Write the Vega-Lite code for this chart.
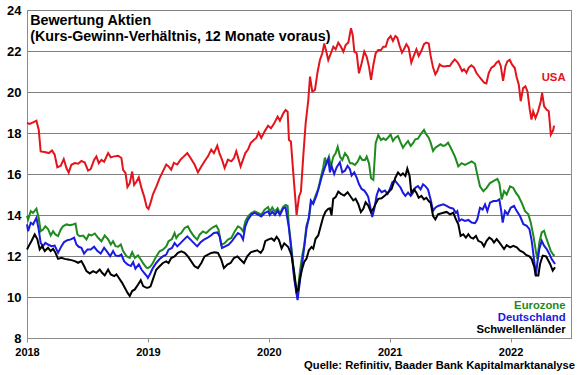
{
"$schema": "https://vega.github.io/schema/vega-lite/v6.json",
"width": 544, "height": 328,
"autosize": {"type": "none"},
"padding": {"left": 27, "top": 10, "right": 9, "bottom": 37},
"config": {"font": "Liberation Sans", "view": {"stroke": "#8c8c8c", "strokeWidth": 1}},
"title": {"text": "Quelle: Refinitiv, Baader Bank Kapitalmarktanalyse", "orient": "bottom", "anchor": "end", "fontSize": 11.2, "fontWeight": "bold", "font": "Liberation Sans", "color": "#000000", "offset": 3, "dx": 4},
"datasets": {
"series": [
{"s":"USA","t":2018.0,"v":18.49},{"s":"USA","t":2018.022,"v":18.44},{"s":"USA","t":2018.05,"v":18.52},{"s":"USA","t":2018.078,"v":18.6},{"s":"USA","t":2018.097,"v":18.16},{"s":"USA","t":2018.113,"v":17.1},{"s":"USA","t":2018.147,"v":17.07},{"s":"USA","t":2018.18,"v":17.02},{"s":"USA","t":2018.207,"v":17.15},{"s":"USA","t":2018.229,"v":16.94},{"s":"USA","t":2018.251,"v":16.33},{"s":"USA","t":2018.279,"v":16.4},{"s":"USA","t":2018.304,"v":16.73},{"s":"USA","t":2018.326,"v":16.29},{"s":"USA","t":2018.345,"v":16.07},{"s":"USA","t":2018.367,"v":16.45},{"s":"USA","t":2018.395,"v":16.53},{"s":"USA","t":2018.423,"v":16.5},{"s":"USA","t":2018.45,"v":16.64},{"s":"USA","t":2018.478,"v":16.56},{"s":"USA","t":2018.505,"v":16.17},{"s":"USA","t":2018.527,"v":16.24},{"s":"USA","t":2018.555,"v":16.69},{"s":"USA","t":2018.574,"v":16.86},{"s":"USA","t":2018.594,"v":16.53},{"s":"USA","t":2018.616,"v":16.69},{"s":"USA","t":2018.638,"v":16.6},{"s":"USA","t":2018.671,"v":17.02},{"s":"USA","t":2018.693,"v":16.81},{"s":"USA","t":2018.721,"v":16.86},{"s":"USA","t":2018.754,"v":16.89},{"s":"USA","t":2018.781,"v":16.78},{"s":"USA","t":2018.795,"v":16.2},{"s":"USA","t":2018.815,"v":16.04},{"s":"USA","t":2018.831,"v":15.36},{"s":"USA","t":2018.85,"v":15.55},{"s":"USA","t":2018.87,"v":16.12},{"s":"USA","t":2018.886,"v":15.47},{"s":"USA","t":2018.906,"v":15.63},{"s":"USA","t":2018.925,"v":15.84},{"s":"USA","t":2018.947,"v":15.31},{"s":"USA","t":2018.969,"v":14.9},{"s":"USA","t":2018.991,"v":14.38},{"s":"USA","t":2019.005,"v":14.3},{"s":"USA","t":2019.022,"v":14.59},{"s":"USA","t":2019.041,"v":14.99},{"s":"USA","t":2019.069,"v":15.37},{"s":"USA","t":2019.097,"v":15.8},{"s":"USA","t":2019.124,"v":16.13},{"s":"USA","t":2019.152,"v":16.46},{"s":"USA","t":2019.171,"v":16.37},{"s":"USA","t":2019.193,"v":16.21},{"s":"USA","t":2019.215,"v":16.54},{"s":"USA","t":2019.243,"v":16.46},{"s":"USA","t":2019.27,"v":16.7},{"s":"USA","t":2019.298,"v":16.86},{"s":"USA","t":2019.326,"v":17.02},{"s":"USA","t":2019.353,"v":16.78},{"s":"USA","t":2019.386,"v":16.46},{"s":"USA","t":2019.414,"v":16.08},{"s":"USA","t":2019.442,"v":16.37},{"s":"USA","t":2019.469,"v":16.62},{"s":"USA","t":2019.497,"v":16.86},{"s":"USA","t":2019.524,"v":17.19},{"s":"USA","t":2019.546,"v":17.02},{"s":"USA","t":2019.574,"v":17.38},{"s":"USA","t":2019.593,"v":16.99},{"s":"USA","t":2019.613,"v":16.7},{"s":"USA","t":2019.635,"v":16.29},{"s":"USA","t":2019.662,"v":16.7},{"s":"USA","t":2019.69,"v":16.62},{"s":"USA","t":2019.712,"v":16.78},{"s":"USA","t":2019.731,"v":17.11},{"s":"USA","t":2019.751,"v":16.7},{"s":"USA","t":2019.767,"v":16.37},{"s":"USA","t":2019.787,"v":16.7},{"s":"USA","t":2019.806,"v":17.02},{"s":"USA","t":2019.828,"v":17.19},{"s":"USA","t":2019.85,"v":17.51},{"s":"USA","t":2019.878,"v":17.67},{"s":"USA","t":2019.897,"v":17.76},{"s":"USA","t":2019.916,"v":18.03},{"s":"USA","t":2019.938,"v":17.76},{"s":"USA","t":2019.966,"v":18.08},{"s":"USA","t":2019.994,"v":18.35},{"s":"USA","t":2020.018,"v":18.23},{"s":"USA","t":2020.045,"v":18.47},{"s":"USA","t":2020.073,"v":18.8},{"s":"USA","t":2020.092,"v":18.6},{"s":"USA","t":2020.12,"v":18.96},{"s":"USA","t":2020.139,"v":19.12},{"s":"USA","t":2020.156,"v":19.04},{"s":"USA","t":2020.167,"v":17.66},{"s":"USA","t":2020.183,"v":17.58},{"s":"USA","t":2020.203,"v":16.03},{"s":"USA","t":2020.23,"v":14.0},{"s":"USA","t":2020.25,"v":14.89},{"s":"USA","t":2020.266,"v":15.14},{"s":"USA","t":2020.285,"v":16.85},{"s":"USA","t":2020.305,"v":18.47},{"s":"USA","t":2020.327,"v":19.61},{"s":"USA","t":2020.341,"v":20.75},{"s":"USA","t":2020.36,"v":20.02},{"s":"USA","t":2020.382,"v":20.1},{"s":"USA","t":2020.404,"v":20.99},{"s":"USA","t":2020.423,"v":21.56},{"s":"USA","t":2020.443,"v":21.89},{"s":"USA","t":2020.459,"v":22.37},{"s":"USA","t":2020.479,"v":21.89},{"s":"USA","t":2020.492,"v":21.56},{"s":"USA","t":2020.514,"v":21.89},{"s":"USA","t":2020.534,"v":22.21},{"s":"USA","t":2020.553,"v":22.08},{"s":"USA","t":2020.575,"v":22.41},{"s":"USA","t":2020.597,"v":22.21},{"s":"USA","t":2020.617,"v":21.97},{"s":"USA","t":2020.636,"v":22.29},{"s":"USA","t":2020.658,"v":22.41},{"s":"USA","t":2020.68,"v":23.11},{"s":"USA","t":2020.694,"v":22.78},{"s":"USA","t":2020.708,"v":21.97},{"s":"USA","t":2020.727,"v":21.89},{"s":"USA","t":2020.746,"v":20.91},{"s":"USA","t":2020.768,"v":21.4},{"s":"USA","t":2020.79,"v":21.97},{"s":"USA","t":2020.81,"v":21.72},{"s":"USA","t":2020.829,"v":21.24},{"s":"USA","t":2020.846,"v":20.59},{"s":"USA","t":2020.865,"v":21.32},{"s":"USA","t":2020.884,"v":21.89},{"s":"USA","t":2020.906,"v":22.05},{"s":"USA","t":2020.928,"v":22.05},{"s":"USA","t":2020.948,"v":22.21},{"s":"USA","t":2020.967,"v":22.21},{"s":"USA","t":2020.986,"v":22.57},{"s":"USA","t":2021.008,"v":22.73},{"s":"USA","t":2021.027,"v":22.49},{"s":"USA","t":2021.047,"v":22.73},{"s":"USA","t":2021.063,"v":22.65},{"s":"USA","t":2021.083,"v":22.24},{"s":"USA","t":2021.102,"v":21.92},{"s":"USA","t":2021.118,"v":22.08},{"s":"USA","t":2021.138,"v":22.33},{"s":"USA","t":2021.157,"v":22.16},{"s":"USA","t":2021.179,"v":21.43},{"s":"USA","t":2021.201,"v":21.79},{"s":"USA","t":2021.221,"v":22.08},{"s":"USA","t":2021.24,"v":21.76},{"s":"USA","t":2021.262,"v":22.0},{"s":"USA","t":2021.284,"v":22.33},{"s":"USA","t":2021.303,"v":22.41},{"s":"USA","t":2021.323,"v":22.37},{"s":"USA","t":2021.339,"v":21.76},{"s":"USA","t":2021.359,"v":21.19},{"s":"USA","t":2021.378,"v":20.86},{"s":"USA","t":2021.394,"v":21.02},{"s":"USA","t":2021.414,"v":21.35},{"s":"USA","t":2021.433,"v":21.27},{"s":"USA","t":2021.455,"v":21.24},{"s":"USA","t":2021.477,"v":21.27},{"s":"USA","t":2021.497,"v":21.27},{"s":"USA","t":2021.516,"v":21.43},{"s":"USA","t":2021.538,"v":21.59},{"s":"USA","t":2021.56,"v":21.46},{"s":"USA","t":2021.579,"v":21.27},{"s":"USA","t":2021.599,"v":21.02},{"s":"USA","t":2021.615,"v":21.11},{"s":"USA","t":2021.635,"v":20.94},{"s":"USA","t":2021.654,"v":21.19},{"s":"USA","t":2021.676,"v":21.3},{"s":"USA","t":2021.698,"v":21.19},{"s":"USA","t":2021.717,"v":20.94},{"s":"USA","t":2021.737,"v":20.78},{"s":"USA","t":2021.759,"v":20.62},{"s":"USA","t":2021.781,"v":20.46},{"s":"USA","t":2021.8,"v":20.42},{"s":"USA","t":2021.82,"v":20.94},{"s":"USA","t":2021.842,"v":21.19},{"s":"USA","t":2021.864,"v":21.27},{"s":"USA","t":2021.883,"v":21.43},{"s":"USA","t":2021.902,"v":21.51},{"s":"USA","t":2021.919,"v":21.27},{"s":"USA","t":2021.938,"v":20.54},{"s":"USA","t":2021.958,"v":21.27},{"s":"USA","t":2021.974,"v":21.49},{"s":"USA","t":2021.993,"v":21.57},{"s":"USA","t":2022.013,"v":21.33},{"s":"USA","t":2022.035,"v":21.17},{"s":"USA","t":2022.049,"v":20.76},{"s":"USA","t":2022.068,"v":20.36},{"s":"USA","t":2022.084,"v":19.55},{"s":"USA","t":2022.104,"v":20.19},{"s":"USA","t":2022.123,"v":20.28},{"s":"USA","t":2022.14,"v":20.03},{"s":"USA","t":2022.159,"v":19.14},{"s":"USA","t":2022.173,"v":18.65},{"s":"USA","t":2022.187,"v":19.06},{"s":"USA","t":2022.206,"v":18.73},{"s":"USA","t":2022.228,"v":19.06},{"s":"USA","t":2022.25,"v":19.55},{"s":"USA","t":2022.261,"v":19.95},{"s":"USA","t":2022.278,"v":19.3},{"s":"USA","t":2022.297,"v":19.14},{"s":"USA","t":2022.316,"v":19.06},{"s":"USA","t":2022.333,"v":17.92},{"s":"USA","t":2022.352,"v":18.13},{"s":"USA","t":2022.36,"v":18.36},
{"s":"Eurozone","t":2018.0,"v":13.97},{"s":"Eurozone","t":2018.009,"v":13.78},{"s":"Eurozone","t":2018.031,"v":14.19},{"s":"Eurozone","t":2018.05,"v":14.1},{"s":"Eurozone","t":2018.078,"v":14.31},{"s":"Eurozone","t":2018.097,"v":13.86},{"s":"Eurozone","t":2018.113,"v":13.21},{"s":"Eurozone","t":2018.133,"v":13.29},{"s":"Eurozone","t":2018.152,"v":13.45},{"s":"Eurozone","t":2018.174,"v":13.32},{"s":"Eurozone","t":2018.196,"v":13.0},{"s":"Eurozone","t":2018.216,"v":13.21},{"s":"Eurozone","t":2018.235,"v":13.05},{"s":"Eurozone","t":2018.257,"v":12.97},{"s":"Eurozone","t":2018.279,"v":13.29},{"s":"Eurozone","t":2018.298,"v":13.45},{"s":"Eurozone","t":2018.326,"v":13.54},{"s":"Eurozone","t":2018.354,"v":13.5},{"s":"Eurozone","t":2018.381,"v":13.54},{"s":"Eurozone","t":2018.401,"v":13.58},{"s":"Eurozone","t":2018.417,"v":13.05},{"s":"Eurozone","t":2018.436,"v":12.97},{"s":"Eurozone","t":2018.464,"v":13.0},{"s":"Eurozone","t":2018.492,"v":12.81},{"s":"Eurozone","t":2018.511,"v":13.05},{"s":"Eurozone","t":2018.533,"v":13.0},{"s":"Eurozone","t":2018.561,"v":13.1},{"s":"Eurozone","t":2018.588,"v":12.89},{"s":"Eurozone","t":2018.616,"v":12.72},{"s":"Eurozone","t":2018.643,"v":13.0},{"s":"Eurozone","t":2018.671,"v":12.81},{"s":"Eurozone","t":2018.693,"v":12.56},{"s":"Eurozone","t":2018.712,"v":12.72},{"s":"Eurozone","t":2018.732,"v":12.48},{"s":"Eurozone","t":2018.754,"v":12.45},{"s":"Eurozone","t":2018.776,"v":12.56},{"s":"Eurozone","t":2018.795,"v":12.24},{"s":"Eurozone","t":2018.823,"v":11.99},{"s":"Eurozone","t":2018.85,"v":11.91},{"s":"Eurozone","t":2018.87,"v":12.19},{"s":"Eurozone","t":2018.892,"v":11.91},{"s":"Eurozone","t":2018.919,"v":12.03},{"s":"Eurozone","t":2018.941,"v":11.83},{"s":"Eurozone","t":2018.961,"v":11.64},{"s":"Eurozone","t":2018.988,"v":11.43},{"s":"Eurozone","t":2019.0,"v":11.41},{"s":"Eurozone","t":2019.022,"v":11.5},{"s":"Eurozone","t":2019.041,"v":11.66},{"s":"Eurozone","t":2019.069,"v":11.98},{"s":"Eurozone","t":2019.097,"v":12.23},{"s":"Eurozone","t":2019.124,"v":12.31},{"s":"Eurozone","t":2019.152,"v":12.47},{"s":"Eurozone","t":2019.171,"v":12.72},{"s":"Eurozone","t":2019.199,"v":12.83},{"s":"Eurozone","t":2019.221,"v":13.12},{"s":"Eurozone","t":2019.235,"v":12.88},{"s":"Eurozone","t":2019.254,"v":13.04},{"s":"Eurozone","t":2019.276,"v":13.12},{"s":"Eurozone","t":2019.304,"v":13.37},{"s":"Eurozone","t":2019.331,"v":13.45},{"s":"Eurozone","t":2019.353,"v":13.2},{"s":"Eurozone","t":2019.381,"v":12.96},{"s":"Eurozone","t":2019.408,"v":12.8},{"s":"Eurozone","t":2019.428,"v":13.04},{"s":"Eurozone","t":2019.455,"v":13.2},{"s":"Eurozone","t":2019.483,"v":13.12},{"s":"Eurozone","t":2019.511,"v":13.28},{"s":"Eurozone","t":2019.538,"v":13.4},{"s":"Eurozone","t":2019.566,"v":13.48},{"s":"Eurozone","t":2019.585,"v":13.28},{"s":"Eurozone","t":2019.607,"v":12.55},{"s":"Eurozone","t":2019.635,"v":12.63},{"s":"Eurozone","t":2019.662,"v":12.8},{"s":"Eurozone","t":2019.69,"v":12.88},{"s":"Eurozone","t":2019.718,"v":13.2},{"s":"Eurozone","t":2019.745,"v":13.45},{"s":"Eurozone","t":2019.767,"v":13.37},{"s":"Eurozone","t":2019.787,"v":13.2},{"s":"Eurozone","t":2019.806,"v":13.69},{"s":"Eurozone","t":2019.828,"v":13.93},{"s":"Eurozone","t":2019.856,"v":14.1},{"s":"Eurozone","t":2019.883,"v":14.18},{"s":"Eurozone","t":2019.911,"v":14.1},{"s":"Eurozone","t":2019.938,"v":14.02},{"s":"Eurozone","t":2019.966,"v":14.26},{"s":"Eurozone","t":2019.994,"v":14.39},{"s":"Eurozone","t":2020.009,"v":14.16},{"s":"Eurozone","t":2020.029,"v":14.37},{"s":"Eurozone","t":2020.051,"v":14.16},{"s":"Eurozone","t":2020.073,"v":14.33},{"s":"Eurozone","t":2020.092,"v":14.08},{"s":"Eurozone","t":2020.12,"v":14.41},{"s":"Eurozone","t":2020.139,"v":14.49},{"s":"Eurozone","t":2020.156,"v":14.44},{"s":"Eurozone","t":2020.166,"v":13.49},{"s":"Eurozone","t":2020.188,"v":12.36},{"s":"Eurozone","t":2020.21,"v":11.06},{"s":"Eurozone","t":2020.23,"v":10.26},{"s":"Eurozone","t":2020.243,"v":10.42},{"s":"Eurozone","t":2020.257,"v":11.23},{"s":"Eurozone","t":2020.277,"v":12.04},{"s":"Eurozone","t":2020.293,"v":12.52},{"s":"Eurozone","t":2020.312,"v":13.49},{"s":"Eurozone","t":2020.332,"v":13.82},{"s":"Eurozone","t":2020.348,"v":14.54},{"s":"Eurozone","t":2020.368,"v":14.62},{"s":"Eurozone","t":2020.387,"v":14.95},{"s":"Eurozone","t":2020.409,"v":15.27},{"s":"Eurozone","t":2020.431,"v":15.84},{"s":"Eurozone","t":2020.45,"v":16.32},{"s":"Eurozone","t":2020.464,"v":16.8},{"s":"Eurozone","t":2020.479,"v":16.52},{"s":"Eurozone","t":2020.498,"v":16.85},{"s":"Eurozone","t":2020.514,"v":16.36},{"s":"Eurozone","t":2020.534,"v":16.85},{"s":"Eurozone","t":2020.553,"v":17.01},{"s":"Eurozone","t":2020.57,"v":17.33},{"s":"Eurozone","t":2020.589,"v":16.85},{"s":"Eurozone","t":2020.608,"v":16.68},{"s":"Eurozone","t":2020.63,"v":17.01},{"s":"Eurozone","t":2020.652,"v":16.85},{"s":"Eurozone","t":2020.672,"v":16.52},{"s":"Eurozone","t":2020.691,"v":16.52},{"s":"Eurozone","t":2020.713,"v":16.44},{"s":"Eurozone","t":2020.735,"v":16.6},{"s":"Eurozone","t":2020.755,"v":16.85},{"s":"Eurozone","t":2020.774,"v":16.68},{"s":"Eurozone","t":2020.796,"v":16.68},{"s":"Eurozone","t":2020.81,"v":16.85},{"s":"Eurozone","t":2020.829,"v":16.52},{"s":"Eurozone","t":2020.846,"v":15.79},{"s":"Eurozone","t":2020.865,"v":15.71},{"s":"Eurozone","t":2020.884,"v":17.5},{"s":"Eurozone","t":2020.906,"v":17.9},{"s":"Eurozone","t":2020.928,"v":17.66},{"s":"Eurozone","t":2020.948,"v":17.74},{"s":"Eurozone","t":2020.967,"v":17.66},{"s":"Eurozone","t":2020.986,"v":17.77},{"s":"Eurozone","t":2021.008,"v":17.93},{"s":"Eurozone","t":2021.027,"v":17.61},{"s":"Eurozone","t":2021.047,"v":17.77},{"s":"Eurozone","t":2021.069,"v":17.85},{"s":"Eurozone","t":2021.091,"v":17.53},{"s":"Eurozone","t":2021.11,"v":17.28},{"s":"Eurozone","t":2021.13,"v":17.45},{"s":"Eurozone","t":2021.152,"v":17.61},{"s":"Eurozone","t":2021.174,"v":17.37},{"s":"Eurozone","t":2021.193,"v":17.5},{"s":"Eurozone","t":2021.212,"v":17.69},{"s":"Eurozone","t":2021.234,"v":17.72},{"s":"Eurozone","t":2021.256,"v":17.93},{"s":"Eurozone","t":2021.284,"v":18.15},{"s":"Eurozone","t":2021.303,"v":17.93},{"s":"Eurozone","t":2021.323,"v":17.77},{"s":"Eurozone","t":2021.339,"v":17.53},{"s":"Eurozone","t":2021.359,"v":17.12},{"s":"Eurozone","t":2021.378,"v":17.28},{"s":"Eurozone","t":2021.4,"v":17.37},{"s":"Eurozone","t":2021.422,"v":17.45},{"s":"Eurozone","t":2021.441,"v":17.37},{"s":"Eurozone","t":2021.461,"v":17.4},{"s":"Eurozone","t":2021.483,"v":17.53},{"s":"Eurozone","t":2021.505,"v":17.28},{"s":"Eurozone","t":2021.52,"v":17.1},{"s":"Eurozone","t":2021.54,"v":16.85},{"s":"Eurozone","t":2021.568,"v":16.37},{"s":"Eurozone","t":2021.595,"v":16.53},{"s":"Eurozone","t":2021.623,"v":16.45},{"s":"Eurozone","t":2021.651,"v":16.53},{"s":"Eurozone","t":2021.678,"v":16.61},{"s":"Eurozone","t":2021.706,"v":16.5},{"s":"Eurozone","t":2021.725,"v":15.97},{"s":"Eurozone","t":2021.747,"v":15.4},{"s":"Eurozone","t":2021.775,"v":15.16},{"s":"Eurozone","t":2021.802,"v":15.32},{"s":"Eurozone","t":2021.83,"v":15.56},{"s":"Eurozone","t":2021.858,"v":15.65},{"s":"Eurozone","t":2021.891,"v":15.76},{"s":"Eurozone","t":2021.907,"v":15.56},{"s":"Eurozone","t":2021.927,"v":14.76},{"s":"Eurozone","t":2021.946,"v":15.16},{"s":"Eurozone","t":2021.968,"v":15.0},{"s":"Eurozone","t":2021.996,"v":15.4},{"s":"Eurozone","t":2022.023,"v":15.32},{"s":"Eurozone","t":2022.045,"v":15.08},{"s":"Eurozone","t":2022.065,"v":14.92},{"s":"Eurozone","t":2022.092,"v":14.6},{"s":"Eurozone","t":2022.12,"v":14.19},{"s":"Eurozone","t":2022.147,"v":14.03},{"s":"Eurozone","t":2022.167,"v":13.63},{"s":"Eurozone","t":2022.189,"v":12.98},{"s":"Eurozone","t":2022.211,"v":12.18},{"s":"Eurozone","t":2022.222,"v":11.85},{"s":"Eurozone","t":2022.238,"v":12.66},{"s":"Eurozone","t":2022.258,"v":13.15},{"s":"Eurozone","t":2022.277,"v":13.23},{"s":"Eurozone","t":2022.294,"v":12.9},{"s":"Eurozone","t":2022.313,"v":12.58},{"s":"Eurozone","t":2022.332,"v":12.26},{"s":"Eurozone","t":2022.354,"v":12.05},{"s":"Eurozone","t":2022.366,"v":12.02},
{"s":"Deutschland","t":2018.0,"v":13.54},{"s":"Deutschland","t":2018.009,"v":13.21},{"s":"Deutschland","t":2018.031,"v":13.62},{"s":"Deutschland","t":2018.05,"v":13.54},{"s":"Deutschland","t":2018.078,"v":13.86},{"s":"Deutschland","t":2018.097,"v":13.29},{"s":"Deutschland","t":2018.113,"v":12.64},{"s":"Deutschland","t":2018.133,"v":12.48},{"s":"Deutschland","t":2018.152,"v":12.64},{"s":"Deutschland","t":2018.174,"v":12.56},{"s":"Deutschland","t":2018.202,"v":12.48},{"s":"Deutschland","t":2018.229,"v":12.51},{"s":"Deutschland","t":2018.257,"v":12.16},{"s":"Deutschland","t":2018.285,"v":12.48},{"s":"Deutschland","t":2018.307,"v":12.68},{"s":"Deutschland","t":2018.334,"v":12.77},{"s":"Deutschland","t":2018.362,"v":12.81},{"s":"Deutschland","t":2018.39,"v":12.89},{"s":"Deutschland","t":2018.409,"v":12.56},{"s":"Deutschland","t":2018.428,"v":12.45},{"s":"Deutschland","t":2018.45,"v":12.4},{"s":"Deutschland","t":2018.472,"v":12.12},{"s":"Deutschland","t":2018.5,"v":12.32},{"s":"Deutschland","t":2018.527,"v":12.32},{"s":"Deutschland","t":2018.555,"v":12.45},{"s":"Deutschland","t":2018.583,"v":12.24},{"s":"Deutschland","t":2018.61,"v":12.12},{"s":"Deutschland","t":2018.638,"v":12.4},{"s":"Deutschland","t":2018.665,"v":12.19},{"s":"Deutschland","t":2018.688,"v":11.99},{"s":"Deutschland","t":2018.712,"v":12.24},{"s":"Deutschland","t":2018.732,"v":12.03},{"s":"Deutschland","t":2018.759,"v":11.99},{"s":"Deutschland","t":2018.781,"v":12.07},{"s":"Deutschland","t":2018.803,"v":11.75},{"s":"Deutschland","t":2018.831,"v":11.59},{"s":"Deutschland","t":2018.859,"v":11.51},{"s":"Deutschland","t":2018.878,"v":11.7},{"s":"Deutschland","t":2018.897,"v":11.38},{"s":"Deutschland","t":2018.925,"v":11.59},{"s":"Deutschland","t":2018.947,"v":11.34},{"s":"Deutschland","t":2018.969,"v":11.18},{"s":"Deutschland","t":2018.991,"v":11.02},{"s":"Deutschland","t":2019.0,"v":10.93},{"s":"Deutschland","t":2019.022,"v":11.17},{"s":"Deutschland","t":2019.041,"v":11.41},{"s":"Deutschland","t":2019.069,"v":11.66},{"s":"Deutschland","t":2019.097,"v":11.85},{"s":"Deutschland","t":2019.124,"v":11.98},{"s":"Deutschland","t":2019.152,"v":12.07},{"s":"Deutschland","t":2019.171,"v":12.31},{"s":"Deutschland","t":2019.199,"v":12.39},{"s":"Deutschland","t":2019.221,"v":12.63},{"s":"Deutschland","t":2019.243,"v":12.47},{"s":"Deutschland","t":2019.27,"v":12.63},{"s":"Deutschland","t":2019.298,"v":12.8},{"s":"Deutschland","t":2019.326,"v":12.96},{"s":"Deutschland","t":2019.353,"v":12.8},{"s":"Deutschland","t":2019.381,"v":12.63},{"s":"Deutschland","t":2019.408,"v":12.47},{"s":"Deutschland","t":2019.436,"v":12.67},{"s":"Deutschland","t":2019.464,"v":12.8},{"s":"Deutschland","t":2019.491,"v":12.88},{"s":"Deutschland","t":2019.519,"v":12.99},{"s":"Deutschland","t":2019.546,"v":13.12},{"s":"Deutschland","t":2019.574,"v":13.15},{"s":"Deutschland","t":2019.593,"v":12.96},{"s":"Deutschland","t":2019.613,"v":12.39},{"s":"Deutschland","t":2019.64,"v":12.47},{"s":"Deutschland","t":2019.668,"v":12.55},{"s":"Deutschland","t":2019.695,"v":12.72},{"s":"Deutschland","t":2019.723,"v":12.96},{"s":"Deutschland","t":2019.745,"v":13.12},{"s":"Deutschland","t":2019.767,"v":13.04},{"s":"Deutschland","t":2019.787,"v":12.8},{"s":"Deutschland","t":2019.806,"v":13.45},{"s":"Deutschland","t":2019.828,"v":13.77},{"s":"Deutschland","t":2019.856,"v":14.02},{"s":"Deutschland","t":2019.883,"v":14.1},{"s":"Deutschland","t":2019.911,"v":14.02},{"s":"Deutschland","t":2019.938,"v":13.93},{"s":"Deutschland","t":2019.966,"v":14.1},{"s":"Deutschland","t":2019.994,"v":14.18},{"s":"Deutschland","t":2020.009,"v":14.0},{"s":"Deutschland","t":2020.029,"v":14.16},{"s":"Deutschland","t":2020.051,"v":14.0},{"s":"Deutschland","t":2020.073,"v":14.21},{"s":"Deutschland","t":2020.092,"v":14.0},{"s":"Deutschland","t":2020.12,"v":14.33},{"s":"Deutschland","t":2020.139,"v":14.37},{"s":"Deutschland","t":2020.166,"v":13.4},{"s":"Deutschland","t":2020.188,"v":12.2},{"s":"Deutschland","t":2020.21,"v":10.9},{"s":"Deutschland","t":2020.238,"v":9.85},{"s":"Deutschland","t":2020.257,"v":10.74},{"s":"Deutschland","t":2020.285,"v":12.04},{"s":"Deutschland","t":2020.312,"v":13.33},{"s":"Deutschland","t":2020.332,"v":13.9},{"s":"Deutschland","t":2020.348,"v":14.71},{"s":"Deutschland","t":2020.368,"v":14.54},{"s":"Deutschland","t":2020.395,"v":14.95},{"s":"Deutschland","t":2020.415,"v":15.35},{"s":"Deutschland","t":2020.437,"v":15.84},{"s":"Deutschland","t":2020.459,"v":16.24},{"s":"Deutschland","t":2020.478,"v":16.57},{"s":"Deutschland","t":2020.492,"v":16.73},{"s":"Deutschland","t":2020.506,"v":16.08},{"s":"Deutschland","t":2020.519,"v":16.4},{"s":"Deutschland","t":2020.541,"v":16.0},{"s":"Deutschland","t":2020.561,"v":16.32},{"s":"Deutschland","t":2020.588,"v":16.57},{"s":"Deutschland","t":2020.608,"v":16.08},{"s":"Deutschland","t":2020.63,"v":16.16},{"s":"Deutschland","t":2020.652,"v":16.4},{"s":"Deutschland","t":2020.671,"v":16.24},{"s":"Deutschland","t":2020.685,"v":15.92},{"s":"Deutschland","t":2020.707,"v":16.08},{"s":"Deutschland","t":2020.726,"v":15.84},{"s":"Deutschland","t":2020.746,"v":15.51},{"s":"Deutschland","t":2020.768,"v":15.27},{"s":"Deutschland","t":2020.79,"v":15.19},{"s":"Deutschland","t":2020.809,"v":15.03},{"s":"Deutschland","t":2020.823,"v":14.87},{"s":"Deutschland","t":2020.837,"v":14.46},{"s":"Deutschland","t":2020.856,"v":13.9},{"s":"Deutschland","t":2020.873,"v":14.3},{"s":"Deutschland","t":2020.892,"v":14.95},{"s":"Deutschland","t":2020.911,"v":15.27},{"s":"Deutschland","t":2020.933,"v":15.11},{"s":"Deutschland","t":2020.961,"v":15.19},{"s":"Deutschland","t":2020.983,"v":15.03},{"s":"Deutschland","t":2021.002,"v":15.27},{"s":"Deutschland","t":2021.022,"v":15.6},{"s":"Deutschland","t":2021.044,"v":15.68},{"s":"Deutschland","t":2021.069,"v":15.5},{"s":"Deutschland","t":2021.091,"v":15.33},{"s":"Deutschland","t":2021.11,"v":15.09},{"s":"Deutschland","t":2021.13,"v":14.93},{"s":"Deutschland","t":2021.152,"v":15.09},{"s":"Deutschland","t":2021.174,"v":14.93},{"s":"Deutschland","t":2021.193,"v":15.09},{"s":"Deutschland","t":2021.212,"v":15.33},{"s":"Deutschland","t":2021.234,"v":15.41},{"s":"Deutschland","t":2021.256,"v":15.25},{"s":"Deutschland","t":2021.276,"v":15.5},{"s":"Deutschland","t":2021.295,"v":15.41},{"s":"Deutschland","t":2021.317,"v":15.25},{"s":"Deutschland","t":2021.339,"v":14.76},{"s":"Deutschland","t":2021.359,"v":14.2},{"s":"Deutschland","t":2021.378,"v":14.36},{"s":"Deutschland","t":2021.4,"v":14.44},{"s":"Deutschland","t":2021.444,"v":14.52},{"s":"Deutschland","t":2021.471,"v":14.44},{"s":"Deutschland","t":2021.499,"v":14.35},{"s":"Deutschland","t":2021.526,"v":14.31},{"s":"Deutschland","t":2021.548,"v":14.11},{"s":"Deutschland","t":2021.56,"v":14.19},{"s":"Deutschland","t":2021.576,"v":13.71},{"s":"Deutschland","t":2021.595,"v":13.79},{"s":"Deutschland","t":2021.623,"v":13.71},{"s":"Deutschland","t":2021.651,"v":13.76},{"s":"Deutschland","t":2021.678,"v":13.63},{"s":"Deutschland","t":2021.706,"v":13.6},{"s":"Deutschland","t":2021.725,"v":13.79},{"s":"Deutschland","t":2021.747,"v":14.35},{"s":"Deutschland","t":2021.769,"v":14.27},{"s":"Deutschland","t":2021.789,"v":14.52},{"s":"Deutschland","t":2021.808,"v":14.19},{"s":"Deutschland","t":2021.83,"v":14.6},{"s":"Deutschland","t":2021.858,"v":14.68},{"s":"Deutschland","t":2021.885,"v":14.68},{"s":"Deutschland","t":2021.907,"v":14.76},{"s":"Deutschland","t":2021.921,"v":14.27},{"s":"Deutschland","t":2021.935,"v":13.63},{"s":"Deutschland","t":2021.954,"v":14.19},{"s":"Deutschland","t":2021.976,"v":14.03},{"s":"Deutschland","t":2022.001,"v":14.35},{"s":"Deutschland","t":2022.029,"v":14.44},{"s":"Deutschland","t":2022.051,"v":14.19},{"s":"Deutschland","t":2022.078,"v":13.95},{"s":"Deutschland","t":2022.106,"v":13.55},{"s":"Deutschland","t":2022.134,"v":13.47},{"s":"Deutschland","t":2022.156,"v":13.31},{"s":"Deutschland","t":2022.175,"v":12.74},{"s":"Deutschland","t":2022.194,"v":11.85},{"s":"Deutschland","t":2022.21,"v":11.05},{"s":"Deutschland","t":2022.222,"v":11.69},{"s":"Deutschland","t":2022.238,"v":12.34},{"s":"Deutschland","t":2022.258,"v":12.74},{"s":"Deutschland","t":2022.277,"v":12.5},{"s":"Deutschland","t":2022.299,"v":12.34},{"s":"Deutschland","t":2022.321,"v":12.1},{"s":"Deutschland","t":2022.34,"v":11.85},{"s":"Deutschland","t":2022.368,"v":11.61},
{"s":"Schwellenländer","t":2018.0,"v":12.32},{"s":"Schwellenländer","t":2018.014,"v":12.48},{"s":"Schwellenländer","t":2018.036,"v":12.72},{"s":"Schwellenländer","t":2018.064,"v":13.05},{"s":"Schwellenländer","t":2018.086,"v":12.81},{"s":"Schwellenländer","t":2018.105,"v":12.32},{"s":"Schwellenländer","t":2018.125,"v":12.48},{"s":"Schwellenländer","t":2018.147,"v":12.24},{"s":"Schwellenländer","t":2018.174,"v":12.4},{"s":"Schwellenländer","t":2018.196,"v":12.24},{"s":"Schwellenländer","t":2018.216,"v":12.35},{"s":"Schwellenländer","t":2018.235,"v":12.16},{"s":"Schwellenländer","t":2018.257,"v":11.86},{"s":"Schwellenländer","t":2018.285,"v":11.91},{"s":"Schwellenländer","t":2018.312,"v":11.86},{"s":"Schwellenländer","t":2018.34,"v":11.83},{"s":"Schwellenländer","t":2018.367,"v":11.8},{"s":"Schwellenländer","t":2018.395,"v":11.75},{"s":"Schwellenländer","t":2018.423,"v":11.67},{"s":"Schwellenländer","t":2018.45,"v":11.75},{"s":"Schwellenländer","t":2018.472,"v":11.51},{"s":"Schwellenländer","t":2018.492,"v":11.26},{"s":"Schwellenländer","t":2018.519,"v":11.15},{"s":"Schwellenländer","t":2018.547,"v":11.26},{"s":"Schwellenländer","t":2018.574,"v":11.18},{"s":"Schwellenländer","t":2018.602,"v":11.34},{"s":"Schwellenländer","t":2018.621,"v":11.18},{"s":"Schwellenländer","t":2018.643,"v":11.05},{"s":"Schwellenländer","t":2018.671,"v":11.34},{"s":"Schwellenländer","t":2018.693,"v":11.1},{"s":"Schwellenländer","t":2018.721,"v":11.02},{"s":"Schwellenländer","t":2018.74,"v":11.1},{"s":"Schwellenländer","t":2018.759,"v":10.94},{"s":"Schwellenländer","t":2018.787,"v":10.69},{"s":"Schwellenländer","t":2018.809,"v":10.45},{"s":"Schwellenländer","t":2018.831,"v":10.21},{"s":"Schwellenländer","t":2018.85,"v":10.05},{"s":"Schwellenländer","t":2018.87,"v":10.29},{"s":"Schwellenländer","t":2018.892,"v":10.37},{"s":"Schwellenländer","t":2018.919,"v":10.61},{"s":"Schwellenländer","t":2018.941,"v":10.82},{"s":"Schwellenländer","t":2018.961,"v":10.53},{"s":"Schwellenländer","t":2018.988,"v":10.45},{"s":"Schwellenländer","t":2019.005,"v":10.46},{"s":"Schwellenländer","t":2019.022,"v":10.52},{"s":"Schwellenländer","t":2019.041,"v":10.85},{"s":"Schwellenländer","t":2019.069,"v":11.33},{"s":"Schwellenländer","t":2019.097,"v":11.5},{"s":"Schwellenländer","t":2019.124,"v":11.66},{"s":"Schwellenländer","t":2019.152,"v":11.74},{"s":"Schwellenländer","t":2019.171,"v":11.66},{"s":"Schwellenländer","t":2019.193,"v":11.9},{"s":"Schwellenländer","t":2019.221,"v":11.98},{"s":"Schwellenländer","t":2019.248,"v":12.15},{"s":"Schwellenländer","t":2019.276,"v":12.23},{"s":"Schwellenländer","t":2019.304,"v":12.15},{"s":"Schwellenländer","t":2019.331,"v":11.98},{"s":"Schwellenländer","t":2019.359,"v":11.74},{"s":"Schwellenländer","t":2019.386,"v":11.5},{"s":"Schwellenländer","t":2019.414,"v":11.41},{"s":"Schwellenländer","t":2019.442,"v":11.66},{"s":"Schwellenländer","t":2019.469,"v":11.98},{"s":"Schwellenländer","t":2019.497,"v":12.07},{"s":"Schwellenländer","t":2019.524,"v":12.15},{"s":"Schwellenländer","t":2019.552,"v":12.18},{"s":"Schwellenländer","t":2019.58,"v":12.15},{"s":"Schwellenländer","t":2019.607,"v":11.82},{"s":"Schwellenländer","t":2019.629,"v":11.41},{"s":"Schwellenländer","t":2019.657,"v":11.58},{"s":"Schwellenländer","t":2019.684,"v":11.66},{"s":"Schwellenländer","t":2019.712,"v":11.9},{"s":"Schwellenländer","t":2019.74,"v":11.98},{"s":"Schwellenländer","t":2019.767,"v":11.82},{"s":"Schwellenländer","t":2019.795,"v":11.66},{"s":"Schwellenländer","t":2019.822,"v":11.98},{"s":"Schwellenländer","t":2019.85,"v":12.18},{"s":"Schwellenländer","t":2019.878,"v":12.23},{"s":"Schwellenländer","t":2019.905,"v":12.28},{"s":"Schwellenländer","t":2019.933,"v":12.15},{"s":"Schwellenländer","t":2019.952,"v":12.31},{"s":"Schwellenländer","t":2019.971,"v":12.72},{"s":"Schwellenländer","t":2019.994,"v":12.8},{"s":"Schwellenländer","t":2020.023,"v":12.86},{"s":"Schwellenländer","t":2020.045,"v":12.75},{"s":"Schwellenländer","t":2020.065,"v":12.94},{"s":"Schwellenländer","t":2020.084,"v":12.78},{"s":"Schwellenländer","t":2020.106,"v":12.37},{"s":"Schwellenländer","t":2020.128,"v":12.62},{"s":"Schwellenländer","t":2020.161,"v":12.44},{"s":"Schwellenländer","t":2020.188,"v":12.04},{"s":"Schwellenländer","t":2020.21,"v":11.23},{"s":"Schwellenländer","t":2020.23,"v":10.26},{"s":"Schwellenländer","t":2020.243,"v":10.34},{"s":"Schwellenländer","t":2020.257,"v":10.9},{"s":"Schwellenländer","t":2020.277,"v":11.39},{"s":"Schwellenländer","t":2020.293,"v":11.71},{"s":"Schwellenländer","t":2020.312,"v":11.87},{"s":"Schwellenländer","t":2020.332,"v":12.28},{"s":"Schwellenländer","t":2020.354,"v":12.44},{"s":"Schwellenländer","t":2020.368,"v":12.36},{"s":"Schwellenländer","t":2020.387,"v":12.84},{"s":"Schwellenländer","t":2020.409,"v":13.0},{"s":"Schwellenländer","t":2020.431,"v":13.49},{"s":"Schwellenländer","t":2020.45,"v":13.9},{"s":"Schwellenländer","t":2020.47,"v":14.17},{"s":"Schwellenländer","t":2020.492,"v":14.3},{"s":"Schwellenländer","t":2020.506,"v":14.33},{"s":"Schwellenländer","t":2020.519,"v":13.98},{"s":"Schwellenländer","t":2020.533,"v":14.79},{"s":"Schwellenländer","t":2020.553,"v":14.87},{"s":"Schwellenländer","t":2020.575,"v":15.14},{"s":"Schwellenländer","t":2020.597,"v":15.03},{"s":"Schwellenländer","t":2020.624,"v":14.95},{"s":"Schwellenländer","t":2020.652,"v":15.11},{"s":"Schwellenländer","t":2020.671,"v":14.95},{"s":"Schwellenländer","t":2020.699,"v":14.71},{"s":"Schwellenländer","t":2020.718,"v":14.79},{"s":"Schwellenländer","t":2020.74,"v":14.54},{"s":"Schwellenländer","t":2020.762,"v":14.14},{"s":"Schwellenländer","t":2020.782,"v":14.3},{"s":"Schwellenländer","t":2020.801,"v":14.62},{"s":"Schwellenländer","t":2020.823,"v":14.46},{"s":"Schwellenländer","t":2020.845,"v":14.14},{"s":"Schwellenländer","t":2020.864,"v":14.3},{"s":"Schwellenländer","t":2020.884,"v":14.54},{"s":"Schwellenländer","t":2020.906,"v":14.79},{"s":"Schwellenländer","t":2020.933,"v":14.82},{"s":"Schwellenländer","t":2020.961,"v":14.95},{"s":"Schwellenländer","t":2020.989,"v":15.11},{"s":"Schwellenländer","t":2021.016,"v":15.27},{"s":"Schwellenländer","t":2021.047,"v":15.82},{"s":"Schwellenländer","t":2021.069,"v":16.07},{"s":"Schwellenländer","t":2021.091,"v":15.93},{"s":"Schwellenländer","t":2021.11,"v":16.03},{"s":"Schwellenländer","t":2021.13,"v":15.9},{"s":"Schwellenländer","t":2021.146,"v":16.26},{"s":"Schwellenländer","t":2021.165,"v":15.9},{"s":"Schwellenländer","t":2021.179,"v":15.09},{"s":"Schwellenländer","t":2021.201,"v":15.25},{"s":"Schwellenländer","t":2021.221,"v":15.09},{"s":"Schwellenländer","t":2021.24,"v":14.84},{"s":"Schwellenländer","t":2021.262,"v":14.93},{"s":"Schwellenländer","t":2021.284,"v":14.76},{"s":"Schwellenländer","t":2021.303,"v":14.84},{"s":"Schwellenländer","t":2021.323,"v":14.68},{"s":"Schwellenländer","t":2021.339,"v":14.6},{"s":"Schwellenländer","t":2021.359,"v":13.95},{"s":"Schwellenländer","t":2021.378,"v":13.79},{"s":"Schwellenländer","t":2021.4,"v":14.03},{"s":"Schwellenländer","t":2021.444,"v":14.11},{"s":"Schwellenländer","t":2021.471,"v":14.15},{"s":"Schwellenländer","t":2021.499,"v":14.03},{"s":"Schwellenländer","t":2021.526,"v":14.11},{"s":"Schwellenländer","t":2021.548,"v":13.79},{"s":"Schwellenländer","t":2021.568,"v":13.55},{"s":"Schwellenländer","t":2021.587,"v":12.98},{"s":"Schwellenländer","t":2021.609,"v":13.06},{"s":"Schwellenländer","t":2021.631,"v":12.9},{"s":"Schwellenländer","t":2021.651,"v":13.06},{"s":"Schwellenländer","t":2021.67,"v":12.9},{"s":"Schwellenländer","t":2021.692,"v":12.85},{"s":"Schwellenländer","t":2021.714,"v":12.98},{"s":"Schwellenländer","t":2021.733,"v":12.74},{"s":"Schwellenländer","t":2021.761,"v":12.66},{"s":"Schwellenländer","t":2021.78,"v":12.47},{"s":"Schwellenländer","t":2021.802,"v":12.74},{"s":"Schwellenländer","t":2021.824,"v":12.9},{"s":"Schwellenländer","t":2021.844,"v":12.82},{"s":"Schwellenländer","t":2021.863,"v":12.66},{"s":"Schwellenländer","t":2021.885,"v":12.82},{"s":"Schwellenländer","t":2021.907,"v":12.66},{"s":"Schwellenländer","t":2021.927,"v":12.5},{"s":"Schwellenländer","t":2021.946,"v":12.34},{"s":"Schwellenländer","t":2021.968,"v":12.53},{"s":"Schwellenländer","t":2021.996,"v":12.42},{"s":"Schwellenländer","t":2022.023,"v":12.5},{"s":"Schwellenländer","t":2022.051,"v":12.42},{"s":"Schwellenländer","t":2022.078,"v":12.26},{"s":"Schwellenländer","t":2022.106,"v":12.18},{"s":"Schwellenländer","t":2022.128,"v":12.05},{"s":"Schwellenländer","t":2022.156,"v":11.98},{"s":"Schwellenländer","t":2022.175,"v":11.85},{"s":"Schwellenländer","t":2022.197,"v":11.45},{"s":"Schwellenländer","t":2022.208,"v":11.05},{"s":"Schwellenländer","t":2022.23,"v":11.05},{"s":"Schwellenländer","t":2022.244,"v":11.61},{"s":"Schwellenländer","t":2022.266,"v":12.02},{"s":"Schwellenländer","t":2022.294,"v":11.98},{"s":"Schwellenländer","t":2022.313,"v":11.77},{"s":"Schwellenländer","t":2022.327,"v":11.61},{"s":"Schwellenländer","t":2022.349,"v":11.29},{"s":"Schwellenländer","t":2022.368,"v":11.45}
],
"labels": [
{"s":"USA","t":2022.455,"v":20.7},
{"s":"Eurozone","t":2022.455,"v":9.58},
{"s":"Deutschland","t":2022.455,"v":8.99},
{"s":"Schwellenländer","t":2022.455,"v":8.4}
],
"heading": [
{"t":2018.026,"v":23.44,"txt":"Bewertung Aktien"},
{"t":2018.026,"v":22.68,"txt":"(Kurs-Gewinn-Verhältnis, 12 Monate voraus)"}
]
},
"layer": [
{
"data": {"name": "series"},
"mark": {"type": "line", "strokeWidth": 2, "interpolate": "linear"},
"encoding": {
"x": {"field": "t", "type": "quantitative", "scale": {"domain": [2018, 2022.5], "nice": false, "zero": false},
"axis": {"title": null, "values": [2018, 2019, 2020, 2021, 2022], "format": "d", "grid": false, "labelFlush": false, "labelOverlap": false, "labelBound": false, "domainColor": "#8c8c8c", "tickColor": "#8c8c8c", "tickSize": 4, "labelPadding": 4, "labelFontSize": 11, "labelFontWeight": "bold", "labelColor": "#000000", "labelFont": "Liberation Sans"}},
"y": {"field": "v", "type": "quantitative", "scale": {"domain": [8, 24], "nice": false, "zero": false},
"axis": {"title": null, "values": [8, 10, 12, 14, 16, 18, 20, 22, 24], "format": "d", "grid": true, "gridColor": "#808080", "gridWidth": 1, "gridOpacity": 1, "ticks": false, "labelPadding": 6, "labelFontSize": 13, "labelFontWeight": "bold", "labelColor": "#000000", "labelFont": "Liberation Sans", "domainColor": "#8c8c8c", "labelFlush": false, "labelOverlap": false, "labelBound": false}},
"color": {"field": "s", "type": "nominal", "legend": null,
"scale": {"domain": ["USA", "Eurozone", "Deutschland", "Schwellenländer"], "range": ["#e3141c", "#1f8a1f", "#1a1ae0", "#000000"]}}
}
},
{
"data": {"name": "labels"},
"mark": {"type": "text", "align": "right", "baseline": "middle", "fontSize": 11.3, "fontWeight": "bold", "font": "Liberation Sans"},
"encoding": {
"x": {"field": "t", "type": "quantitative"},
"y": {"field": "v", "type": "quantitative"},
"text": {"field": "s"},
"color": {"field": "s", "type": "nominal", "legend": null}
}
},
{
"data": {"name": "heading"},
"mark": {"type": "text", "align": "left", "baseline": "middle", "fontSize": 14.3, "fontWeight": "bold", "font": "Liberation Sans", "color": "#000000"},
"encoding": {
"x": {"field": "t", "type": "quantitative"},
"y": {"field": "v", "type": "quantitative"},
"text": {"field": "txt"}
}
}
]
}
